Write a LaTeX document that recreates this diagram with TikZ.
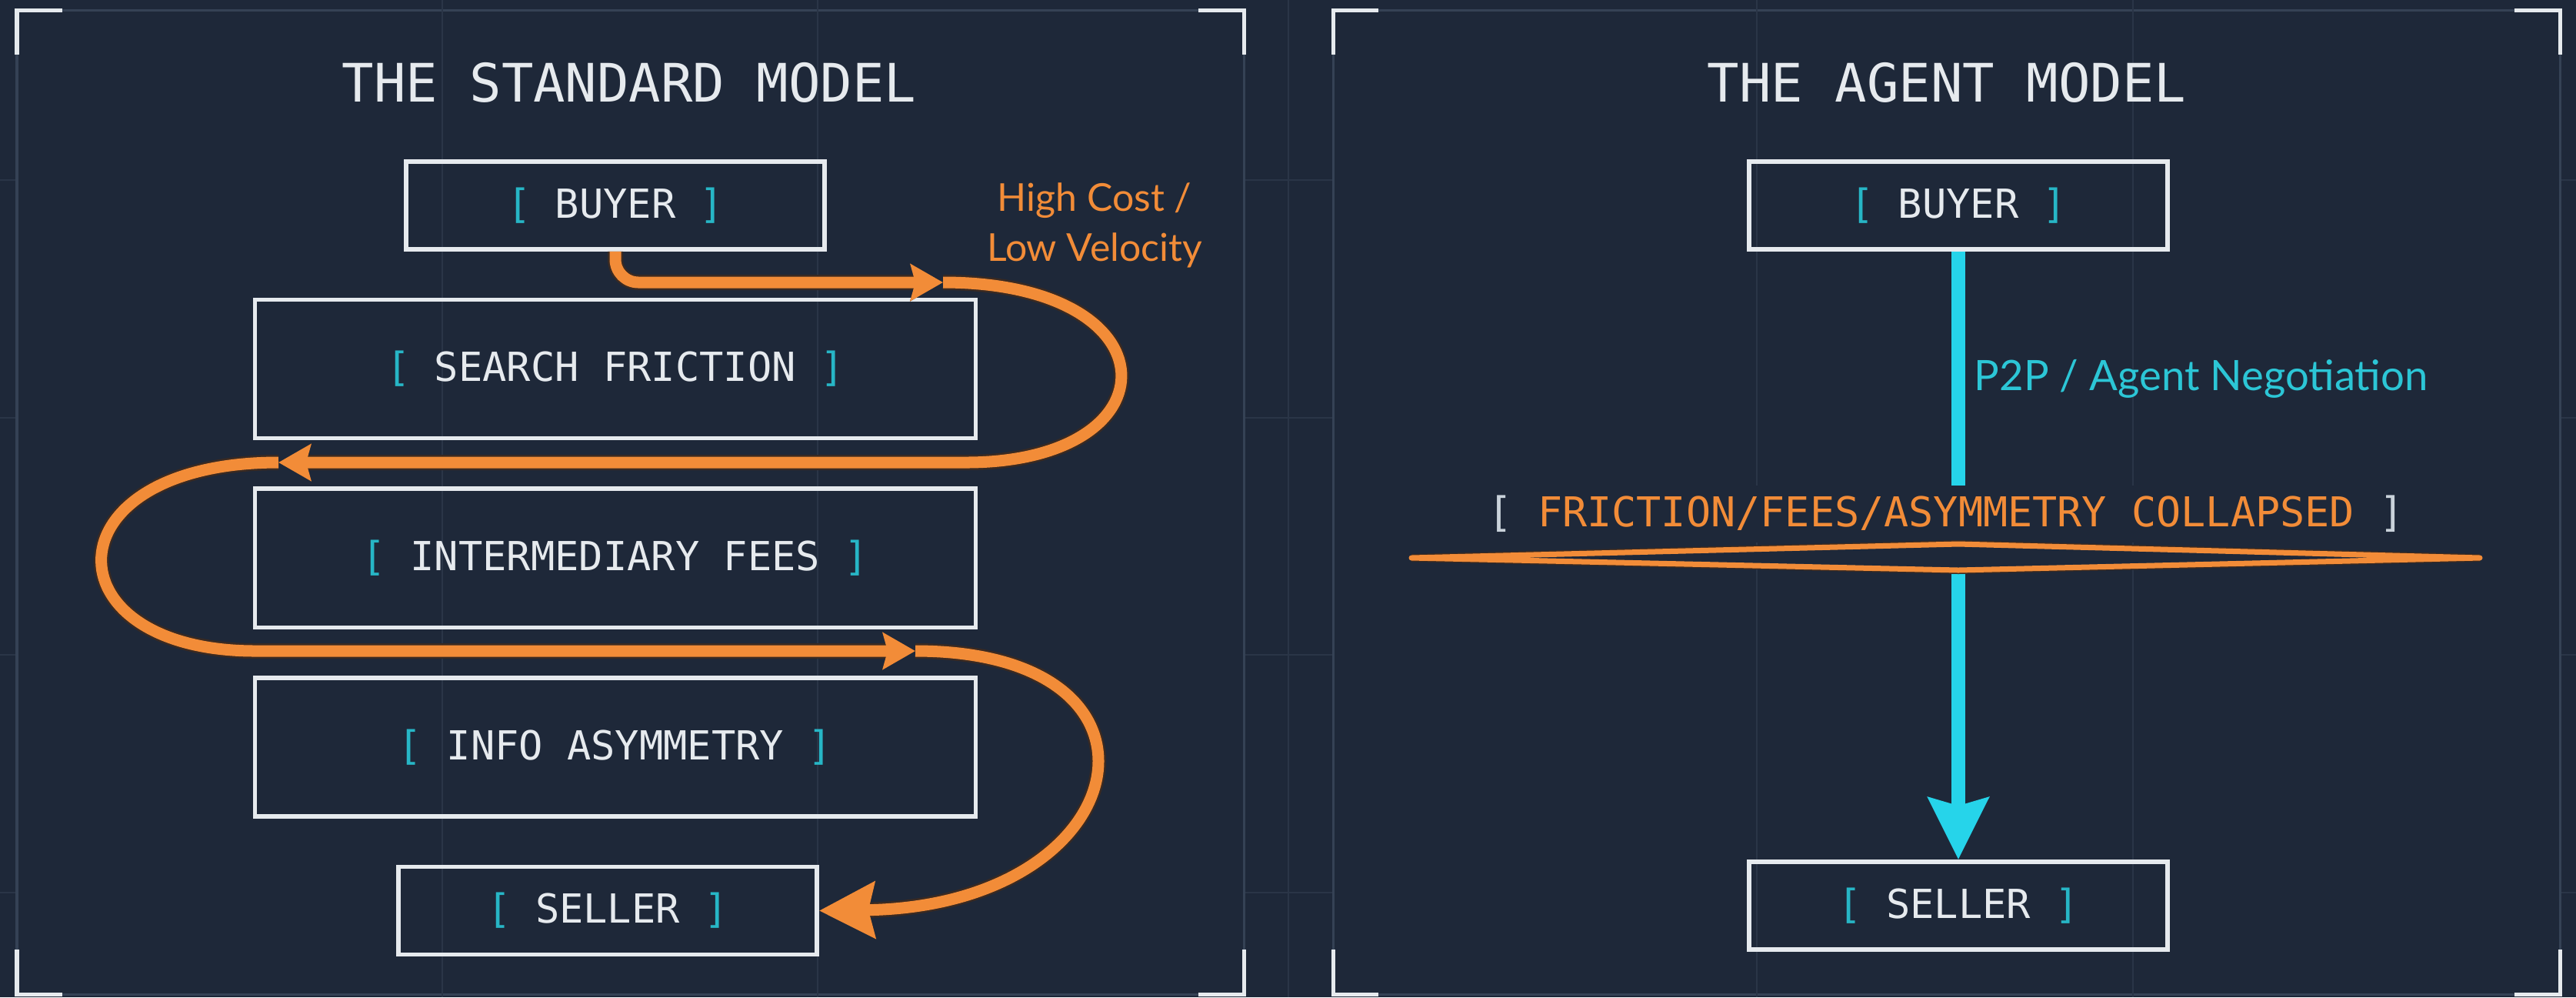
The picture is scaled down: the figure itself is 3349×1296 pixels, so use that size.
\documentclass[tikz,border=0pt]{standalone}
\usepackage{fontspec}
\setmonofont{DejaVu Sans Mono}
\newfontfamily\labelfont{Lato}
\usetikzlibrary{positioning,arrows.meta}
\definecolor{bg}{HTML}{1E2839}
\definecolor{gridc}{HTML}{2A3547}
\definecolor{framec}{HTML}{354255}
\definecolor{boxline}{HTML}{E6EAEE}
\definecolor{orangeflow}{HTML}{F28C38}
\definecolor{shadowc}{HTML}{3A2A22}
\definecolor{cyanflow}{HTML}{26D4EA}
\definecolor{cyantext}{HTML}{2CC6D6}
\definecolor{brackc}{HTML}{27B6C6}
\definecolor{greybrack}{HTML}{C9D2DA}
\newcommand{\boxtext}[2][brackc]{\textcolor{#1}{[}~#2~\textcolor{#1}{]}}

\begin{document}
\begin{tikzpicture}[x=0.01cm, y=-0.01cm, node distance=0.6cm,
  box/.style={rectangle, draw=boxline, line width=0.055cm, text=boxline, font=\ttfamily\fontsize{14.8pt}{18pt}\selectfont, minimum width=5.44cm, minimum height=1.14cm},
  wide/.style={minimum width=9.36cm, minimum height=1.8cm},
  heading/.style={text=boxline, font=\ttfamily\fontsize{19.6pt}{24pt}\selectfont},
  corner/.style={draw=boxline, line width=0.05cm},
  flow/.style={draw=orangeflow, line width=0.15cm, rounded corners=0.3cm, preaction={draw=shadowc, line width=0.2cm}},
  agentflow/.style={draw=cyanflow, line width=0.18cm},
  note/.style={font=\labelfont\fontsize{14.2pt}{18.4pt}\selectfont, align=center}]
\useasboundingbox (0,0) rectangle (3349,1296);
\fill[bg] (0,0) rectangle (3349,1296);
\foreach \gy in {234,543,851,1160} \draw[gridc, line width=0.025cm] (0,\gy) -- (3349,\gy);
\foreach \xa/\xb in {22/1617, 1733/3328} {
  \fill[bg] (\xa,13) rectangle (\xb,1292);
  \draw[framec, line width=0.03cm] (\xa,13) rectangle (\xb,1292);
  \draw[corner] (\xa,71) |- (\xa+59,13);
  \draw[corner] (\xb-59,13) -| (\xb,71);
  \draw[corner] (\xa,1234) |- (\xa+59,1292);
  \draw[corner] (\xb-59,1292) -| (\xb,1234);
}
\foreach \gx in {575,1063,1675,2284,2773} \draw[gridc, line width=0.025cm] (\gx,0) -- (\gx,1296);

\node[heading] (stdtitle) at (818,107) {THE STANDARD MODEL};
\node[box] (buyer) at (800,267) {\boxtext{BUYER}};
\node[box, wide, below=of buyer] (search) {\boxtext{SEARCH FRICTION}};
\node[box, wide, below=of search] (fees) {\boxtext{INTERMEDIARY FEES}};
\node[box, wide, below=of fees] (info) {\boxtext{INFO ASYMMETRY}};
\node[box, below=of info, xshift=-0.1cm] (seller) {\boxtext{SELLER}};
\node[note, text=orangeflow] (cost) at (1423,293) {High Cost /\\Low Velocity};

\coordinate (t1) at (1226,367);
\coordinate (t2) at (362,601);
\coordinate (t3) at (1190,846);
\draw[flow, -{Stealth[length=0.42cm, width=0.47cm, inset=0.06cm]}] (buyer.south) |- (t1);
\draw[flow, -{Stealth[length=0.42cm, width=0.47cm, inset=0.06cm]}] (t1) .. controls (1530,367) and (1530,601) .. (1226,601) -- (t2);
\draw[flow, -{Stealth[length=0.42cm, width=0.47cm, inset=0.06cm]}] (t2) .. controls (60,601) and (60,846) .. (362,846) -- (t3);
\draw[flow, -{Stealth[length=0.72cm, width=0.72cm, inset=0.08cm]}] (t3) .. controls (1550,846) and (1480,1178) .. (seller.east);

\node[heading] (agenttitle) at (2531,107) {THE AGENT MODEL};
\node[box] (abuyer) at (2546,267) {\boxtext{BUYER}};
\node[box, below=7.9cm of abuyer] (aseller) {\boxtext{SELLER}};
\draw[agentflow, -{Stealth[length=0.8cm, width=0.77cm, inset=0.1cm]}] (abuyer) -- node[note, text=cyantext, right, pos=0.21, font=\labelfont\fontsize{15.5pt}{18pt}\selectfont] (p2p) {P2P / Agent Negotiation} (aseller);
\node[fill=bg, inner sep=0.13cm, text=orangeflow, font=\ttfamily\fontsize{15.2pt}{18pt}\selectfont] (collapsed) at (2530,668) {\boxtext[greybrack]{FRICTION/FEES/ASYMMETRY COLLAPSED}};
\draw[orangeflow, line width=0.07cm, line join=round, fill=bg, preaction={draw=shadowc, line width=0.1cm}] (1835,725) -- (2546,707) -- (3224,725) -- (2546,741) -- cycle;
\end{tikzpicture}
\end{document}
